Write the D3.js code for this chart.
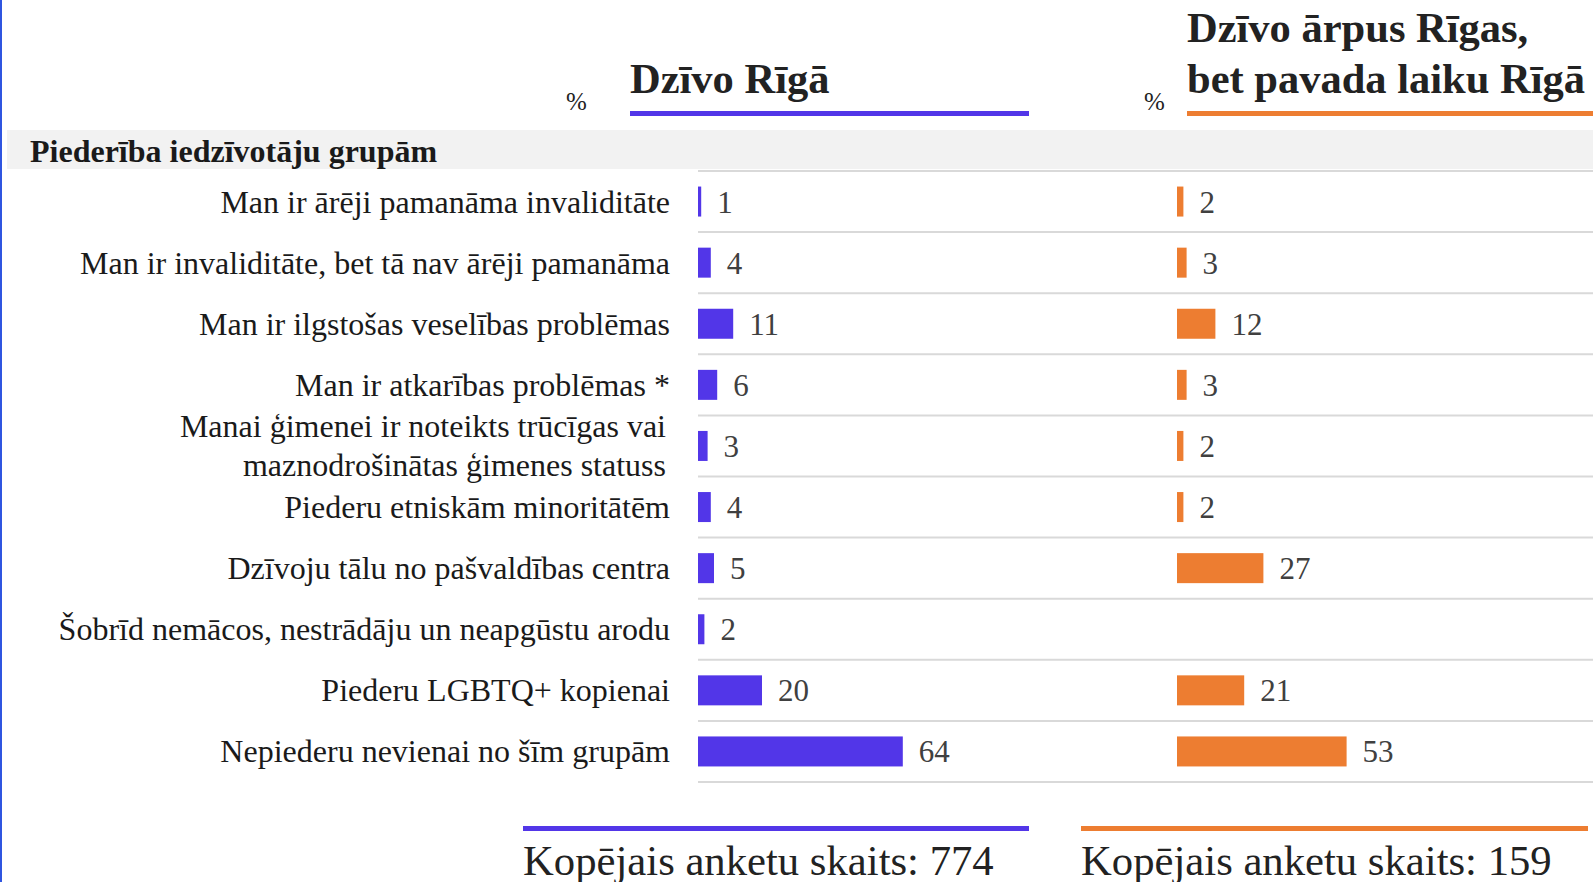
<!DOCTYPE html>
<html lang="lv">
<head>
<meta charset="UTF-8">
<title>Piederība iedzīvotāju grupām</title>
<script src="https://d3js.org/d3.v7.min.js"></script>
<style>
    body {
        margin: 0;
        background: #fff;
        font-family: "Liberation Serif", "Times New Roman", serif;
    }
    svg { display: block; }
    .sep { stroke: #d9d9d9; stroke-width: 2px; }
    .cat { font-size: 32px; fill: #1a1a1a; }
    .val { font-size: 31px; fill: #404040; }
    .head { font-size: 42.5px; font-weight: bold; fill: #222; }
    .pct { font-size: 25px; fill: #222; }
    .total { font-size: 42.7px; fill: #222; }
</style>
</head>
<body>
<svg id="chart"></svg>
<script>
    // data
    const categories = [
        "Man ir ārēji pamanāma invaliditāte",
        "Man ir invaliditāte, bet tā nav ārēji pamanāma",
        "Man ir ilgstošas veselības problēmas",
        "Man ir atkarības problēmas *",
        "Manai ģimenei ir noteikts trūcīgas vai maznodrošinātas ģimenes statuss",
        "Piederu etniskām minoritātēm",
        "Dzīvoju tālu no pašvaldības centra",
        "Šobrīd nemācos, nestrādāju un neapgūstu arodu",
        "Piederu LGBTQ+ kopienai",
        "Nepiederu nevienai no šīm grupām"
    ];
    const rigaValues = [1, 4, 11, 6, 3, 4, 5, 2, 20, 64];
    const outsideValues = [2, 3, 12, 3, 2, 2, 27, null, 21, 53];
    const seriesNames = [["Dzīvo Rīgā"], ["Dzīvo ārpus Rīgas,", "bet pavada laiku Rīgā"]];
    const totals = [774, 159];
    const sectionTitle = "Piederība iedzīvotāju grupām";
    const colors = ["#5236e8", "#ed7d31"];

    const width = 1593, height = 882;
    const svg = d3.select("#chart").attr("width", width).attr("height", height);

    // left frame edge
    svg.append("rect").attr("x", 0).attr("y", 0).attr("width", 2).attr("height", height)
        .attr("fill", "#2f55e0");

    const y = d3.scaleBand().domain(categories).range([171, 782]);
    const barH = 30;

    // each panel: bar origin, header line extent, % position, bottom line extent
    const panels = [
        {values: rigaValues, x0: 698, lineX: [630, 1029], pctX: 566, footX: [523, 1029]},
        {values: outsideValues, x0: 1177, lineX: [1187, 1593], pctX: 1144, footX: [1081, 1588]}
    ];
    const x = d3.scaleLinear().domain([0, 100]).range([0, 320]);

    // section band
    svg.append("rect").attr("x", 7).attr("y", 130).attr("width", width - 7).attr("height", 39)
        .attr("fill", "#f2f2f2");
    svg.append("text").attr("x", 30).attr("y", 162)
        .attr("font-size", 32).attr("font-weight", "bold").attr("fill", "#1a1a1a")
        .text(sectionTitle);

    // row separators
    const edges = categories.map(c => y(c)).concat([y.range()[1]]);
    svg.selectAll(".sep").data(edges).enter().append("line")
        .attr("class", "sep")
        .attr("x1", 698).attr("x2", width)
        .attr("y1", d => d).attr("y2", d => d);

    // category labels, wrapped when too long
    const catText = svg.selectAll(".cat").data(categories).enter().append("text")
        .attr("class", "cat")
        .attr("text-anchor", "end");
    catText.each(function (d) {
        const el = d3.select(this);
        const words = d.split(" ");
        const lines = [];
        let line = [];
        const probe = el.append("tspan");
        words.forEach(w => {
            line.push(w);
            probe.text(line.join(" "));
            if (probe.node().getComputedTextLength() > 640 && line.length > 1) {
                line.pop();
                lines.push(line.join(" "));
                line = [w];
            }
        });
        lines.push(line.join(" "));
        probe.remove();
        const cy = y(d) + y.bandwidth() / 2;
        const lh = 39;
        lines.forEach((t, i) => {
            el.append("tspan")
                .attr("x", lines.length > 1 ? 666 : 670)
                .attr("y", cy + 11 + (i - (lines.length - 1) / 2) * lh)
                .text(t);
        });
    });

    panels.forEach((p, k) => {
        const rows = categories.map((c, i) => ({c, v: p.values[i]})).filter(d => d.v != null);
        const g = svg.append("g");

        g.selectAll("rect").data(rows).enter().append("rect")
            .attr("x", p.x0)
            .attr("y", d => y(d.c) + y.bandwidth() / 2 - barH / 2)
            .attr("width", d => x(d.v))
            .attr("height", barH)
            .attr("fill", colors[k]);

        g.selectAll(".val").data(rows).enter().append("text")
            .attr("class", "val")
            .attr("x", d => p.x0 + x(d.v) + 16)
            .attr("y", d => y(d.c) + y.bandwidth() / 2 + 11)
            .text(d => d.v);

        // header
        const names = seriesNames[k];
        names.forEach((t, i) => {
            svg.append("text").attr("class", "head")
                .attr("x", p.lineX[0])
                .attr("y", 93 - (names.length - 1 - i) * 51)
                .text(t);
        });
        svg.append("rect").attr("x", p.lineX[0]).attr("y", 111)
            .attr("width", p.lineX[1] - p.lineX[0]).attr("height", 5)
            .attr("fill", colors[k]);
        svg.append("text").attr("class", "pct").attr("x", p.pctX).attr("y", 110).text("%");

        // footer
        svg.append("rect").attr("x", p.footX[0]).attr("y", 826)
            .attr("width", p.footX[1] - p.footX[0]).attr("height", 5)
            .attr("fill", colors[k]);
        svg.append("text").attr("class", "total").attr("x", p.footX[0]).attr("y", 875)
            .text("Kopējais anketu skaits: " + totals[k]);
    });
</script>
</body>
</html>
